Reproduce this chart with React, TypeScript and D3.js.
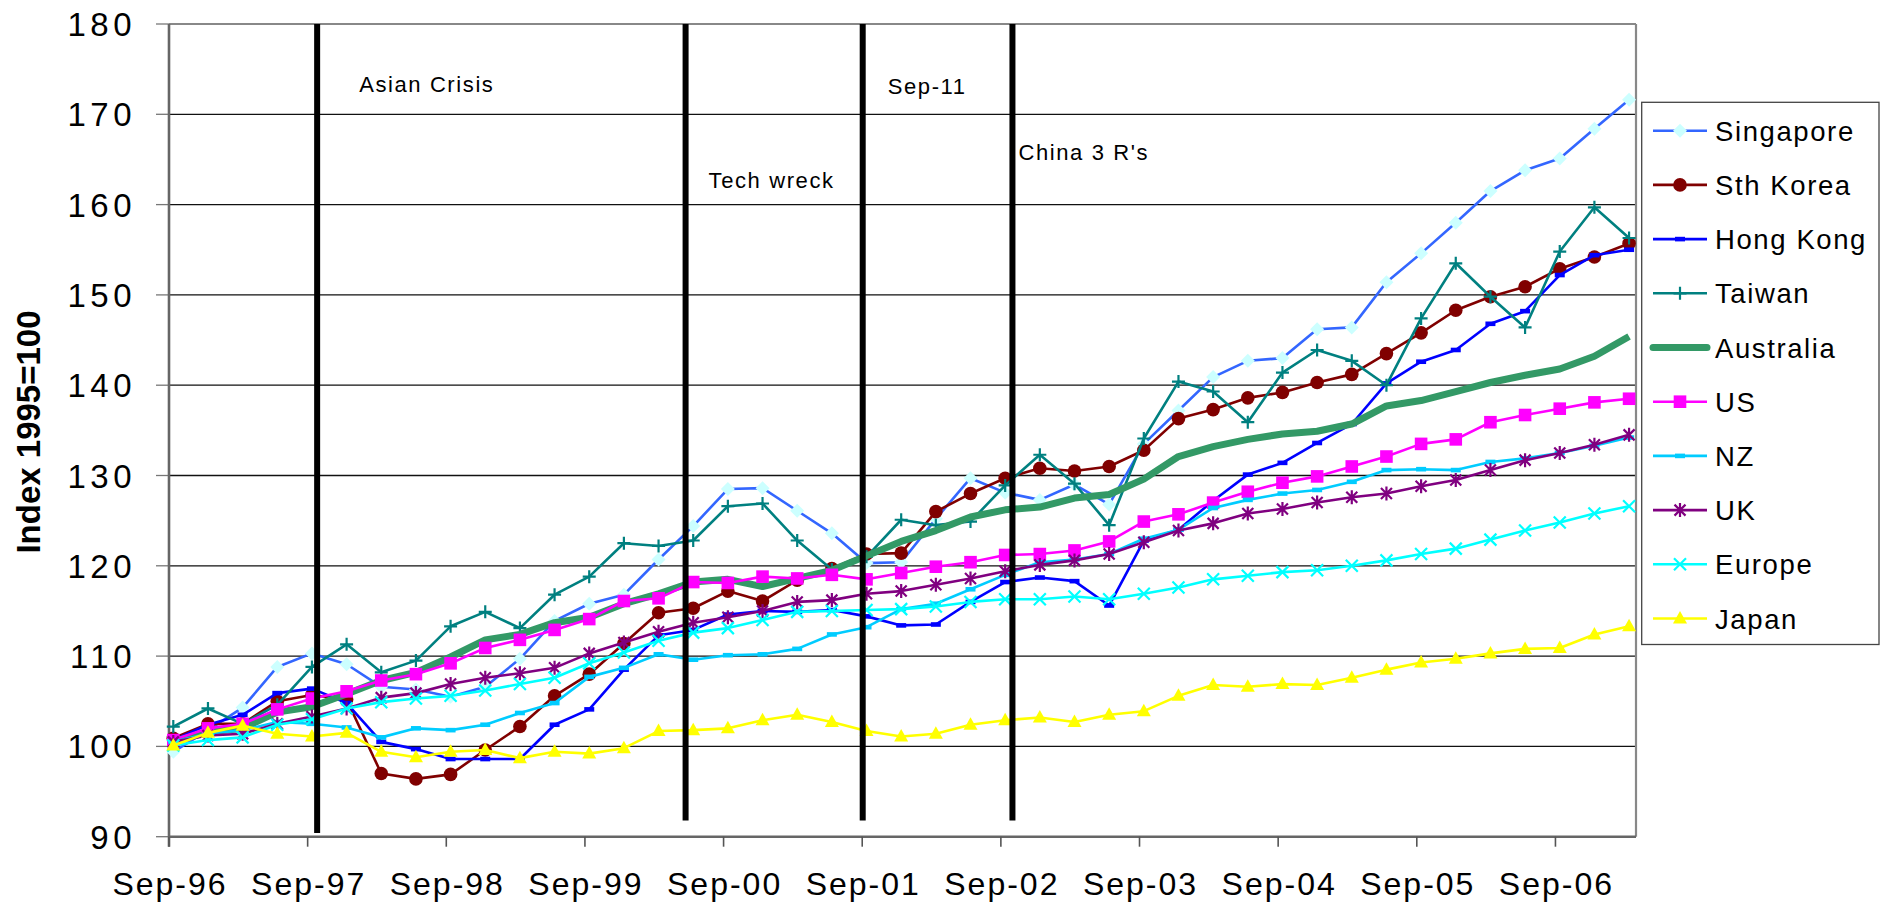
import * as d3 from 'd3';

// Quarterly index values, Sep-96 .. Mar-07 (1995 = 100)
const tickLabels = ['Sep-96', 'Sep-97', 'Sep-98', 'Sep-99', 'Sep-00', 'Sep-01', 'Sep-02', 'Sep-03', 'Sep-04', 'Sep-05', 'Sep-06'];
const yTickValues = [90, 100, 110, 120, 130, 140, 150, 160, 170, 180];

const singapore = [99.4, 101.8, 104.3, 108.8, 110.3, 109.1, 106.6, 106.3, 105.5, 106.6, 109.7, 113.9, 115.8, 116.8, 120.7, 124.4, 128.5, 128.6, 126.1, 123.6, 120.3, 120.4, 125.2, 129.7, 128.1, 127.3, 129.0, 126.8, 133.5, 137.2, 140.9, 142.7, 143.0, 146.2, 146.4, 151.4, 154.6, 158.0, 161.5, 163.8, 165.1, 168.4, 171.6];
const sthKorea = [100.9, 102.5, 102.5, 105.0, 105.7, 105.2, 97.0, 96.4, 96.9, 99.6, 102.2, 105.6, 108.0, 111.4, 114.8, 115.3, 117.2, 116.1, 118.4, 119.7, 121.3, 121.4, 126.0, 128.0, 129.7, 130.8, 130.5, 131.0, 132.8, 136.3, 137.3, 138.6, 139.2, 140.3, 141.2, 143.5, 145.8, 148.3, 149.8, 150.9, 152.9, 154.2, 155.7];
const hongKong = [100.7, 102.4, 103.5, 105.9, 106.4, 104.8, 100.5, 99.7, 98.6, 98.6, 98.6, 102.4, 104.1, 108.5, 112.3, 112.9, 114.6, 115.0, 114.9, 115.1, 114.4, 113.4, 113.5, 116.0, 118.2, 118.7, 118.3, 115.6, 122.8, 124.0, 127.2, 130.1, 131.4, 133.6, 135.7, 140.2, 142.6, 143.9, 146.8, 148.2, 152.2, 154.4, 155.0];
const taiwan = [102.2, 104.2, 102.5, 104.6, 108.8, 111.3, 108.2, 109.5, 113.3, 114.9, 113.1, 116.8, 118.8, 122.5, 122.2, 122.8, 126.6, 126.9, 122.8, 119.6, 121.0, 125.1, 124.5, 124.9, 128.9, 132.3, 129.1, 124.5, 134.1, 140.4, 139.3, 135.9, 141.4, 143.9, 142.7, 140.0, 147.4, 153.5, 149.8, 146.4, 154.8, 159.7, 156.3];
const australia = [100.5, 101.6, 102.0, 103.8, 104.4, 105.8, 107.3, 108.2, 109.9, 111.8, 112.4, 113.7, 114.3, 115.8, 116.9, 118.2, 118.5, 117.7, 118.6, 119.5, 121.1, 122.7, 123.9, 125.4, 126.2, 126.5, 127.5, 127.9, 129.6, 132.1, 133.2, 134.0, 134.6, 134.9, 135.7, 137.7, 138.3, 139.3, 140.3, 141.1, 141.8, 143.2, 145.4];
const us = [100.7, 102.0, 102.5, 104.1, 105.3, 106.1, 107.3, 108.0, 109.2, 110.9, 111.8, 112.9, 114.1, 116.1, 116.4, 118.2, 118.1, 118.8, 118.6, 119.0, 118.5, 119.2, 119.9, 120.4, 121.2, 121.3, 121.7, 122.7, 124.9, 125.7, 127.0, 128.2, 129.2, 129.9, 131.0, 132.1, 133.5, 134.0, 135.9, 136.7, 137.4, 138.1, 138.5];
const nz = [100.5, 101.4, 101.8, 102.7, 102.5, 102.1, 101.0, 102.0, 101.8, 102.4, 103.7, 104.8, 107.7, 108.7, 110.2, 109.6, 110.1, 110.2, 110.8, 112.4, 113.2, 115.2, 115.8, 117.4, 119.0, 120.4, 120.7, 121.3, 123.0, 124.0, 126.4, 127.3, 128.0, 128.4, 129.3, 130.6, 130.7, 130.6, 131.5, 131.9, 132.5, 133.3, 134.2];
const uk = [100.5, 101.2, 101.4, 102.5, 103.3, 104.2, 105.4, 105.9, 106.9, 107.6, 108.1, 108.7, 110.3, 111.5, 112.7, 113.7, 114.3, 115.0, 116.0, 116.2, 116.9, 117.2, 117.9, 118.6, 119.4, 120.1, 120.6, 121.3, 122.6, 123.9, 124.7, 125.8, 126.3, 127.0, 127.6, 128.0, 128.8, 129.5, 130.6, 131.7, 132.5, 133.4, 134.5];
const europe = [100.1, 100.7, 101.0, 102.4, 103.0, 104.2, 104.9, 105.3, 105.6, 106.2, 106.9, 107.6, 109.2, 110.4, 111.7, 112.6, 113.1, 114.0, 114.9, 115.0, 115.1, 115.2, 115.5, 116.0, 116.3, 116.3, 116.6, 116.3, 116.9, 117.6, 118.5, 118.9, 119.3, 119.5, 120.0, 120.6, 121.3, 121.9, 122.9, 123.9, 124.8, 125.8, 126.6];
const japan = [100.1, 101.5, 102.3, 101.4, 101.1, 101.5, 99.4, 98.8, 99.4, 99.6, 98.7, 99.4, 99.2, 99.8, 101.7, 101.8, 102.0, 102.9, 103.5, 102.7, 101.7, 101.1, 101.4, 102.4, 102.9, 103.2, 102.7, 103.5, 103.9, 105.6, 106.8, 106.6, 106.9, 106.8, 107.6, 108.5, 109.3, 109.7, 110.3, 110.8, 110.9, 112.4, 113.3];

const seriesNames = ['Singapore', 'Sth Korea', 'Hong Kong', 'Taiwan', 'Australia', 'US', 'NZ', 'UK', 'Europe', 'Japan'];
const seriesValues = [singapore, sthKorea, hongKong, taiwan, australia, us, nz, uk, europe, japan];

// events, in quarters after the first observation
const eventLabels = ['Asian Crisis', 'Tech wreck', 'Sep-11', "China 3 R's"];
const eventQuarters = [4.15, 14.78, 19.89, 24.21];

type MarkerKind = 'diamond' | 'circle' | 'dash' | 'plus' | 'square' | 'star' | 'x' | 'triangle' | 'none';
interface SeriesStyle { line: string; fill: string; marker: MarkerKind; width: number }

const styles: Record<string, SeriesStyle> = {
  Singapore: { line: '#3366FF', fill: '#CCFFFF', marker: 'diamond', width: 2.6 },
  'Sth Korea': { line: '#800000', fill: '#800000', marker: 'circle', width: 2.6 },
  'Hong Kong': { line: '#0000FF', fill: '#0000FF', marker: 'dash', width: 2.6 },
  Taiwan: { line: '#008080', fill: '#008080', marker: 'plus', width: 2.6 },
  Australia: { line: '#339966', fill: '#339966', marker: 'none', width: 7 },
  US: { line: '#FF00FF', fill: '#FF00FF', marker: 'square', width: 2.6 },
  NZ: { line: '#00CCFF', fill: '#00CCFF', marker: 'dash', width: 2.6 },
  UK: { line: '#800080', fill: '#800080', marker: 'star', width: 2.6 },
  Europe: { line: '#00FFFF', fill: '#00FFFF', marker: 'x', width: 2.6 },
  Japan: { line: '#FFFF00', fill: '#FFFF00', marker: 'triangle', width: 2.6 },
};

const FONT = '"Liberation Sans", Arial, Helvetica, sans-serif';
const plot = { left: 169, top: 24, right: 1636, bottom: 836.7 };

function Marker({ kind, x, y, style }: { kind: MarkerKind; x: number; y: number; style: SeriesStyle }) {
  const t = `translate(${x},${y})`;
  switch (kind) {
    case 'diamond':
      return <path transform={t} d="M0,-7L7,0L0,7L-7,0Z" fill={style.fill} />;
    case 'circle':
      return <circle cx={x} cy={y} r={6.8} fill={style.fill} />;
    case 'dash':
      return <rect x={x - 5} y={y - 2.3} width={10} height={4.6} fill={style.fill} />;
    case 'square':
      return <rect x={x - 6.3} y={y - 6.3} width={12.6} height={12.6} fill={style.fill} />;
    case 'triangle':
      return <path transform={t} d="M0,-7.5L7,5L-7,5Z" fill={style.fill} />;
    case 'plus':
      return <path transform={t} d="M-6.5,0H6.5M0,-6.5V6.5" stroke={style.fill} strokeWidth={2.2} />;
    case 'x':
      return <path transform={t} d="M-6,-6L6,6M-6,6L6,-6" stroke={style.fill} strokeWidth={2.2} />;
    case 'star':
      return <path transform={t} d="M-5.5,-5.5L5.5,5.5M-5.5,5.5L5.5,-5.5M0,-7V7" stroke={style.fill} strokeWidth={2.2} />;
    default:
      return null;
  }
}

export default function App() {
  const lastIndex = singapore.length - 1;
  const x = d3.scaleLinear().domain([-0.124, lastIndex + 0.2]).range([plot.left, plot.right]);
  const y = d3.scaleLinear().domain([90, 180]).range([plot.bottom, plot.top]);
  const line = d3.line<number>().x((_, i) => x(i)).y((v) => y(v));
  const tickQuarter = (k: number) => k * 4 - 0.124;

  const legendY = d3.scaleLinear().domain([0, seriesNames.length - 1]).range([130.7, 618.5]);
  const eventBottoms = [90.4, 91.8, 91.8, 91.8];
  const labelPos = [
    { dx: 42, y: 92 },
    { dx: 23, y: 188 },
    { dx: 25, y: 94 },
    { dx: 6, y: 160 },
  ];

  return (
    <div style={{ position: 'absolute', left: 0, top: 0 }}>
      <svg width={1889} height={905} style={{ display: 'block', background: '#fff' }}>
        {/* gridlines and y ticks */}
        {yTickValues.map((v) => (
          <g key={`y-${v}`}>
            {v !== 180 && v !== 90 && (
              <line x1={plot.left} x2={plot.right} y1={y(v)} y2={y(v)} stroke="#111" strokeWidth={1.3} />
            )}
            <line x1={156} x2={plot.left} y1={y(v)} y2={y(v)} stroke="#777" strokeWidth={1.3} />
            <text x={136} y={y(v) + 12} textAnchor="end" fontFamily={FONT} fontSize={33} letterSpacing={4.5} fill="#000">
              {v}
            </text>
          </g>
        ))}
        {/* plot frame */}
        <line x1={plot.left} x2={plot.right} y1={plot.top} y2={plot.top} stroke="#888" strokeWidth={2.2} />
        <line x1={plot.right} x2={plot.right} y1={plot.top} y2={plot.bottom} stroke="#888" strokeWidth={2.2} />
        <line x1={plot.left} x2={plot.left} y1={plot.top} y2={plot.bottom + 10} stroke="#666" strokeWidth={2.6} />
        <line x1={plot.left} x2={plot.right} y1={plot.bottom} y2={plot.bottom} stroke="#666" strokeWidth={2.6} />
        {/* x ticks */}
        {tickLabels.map((label, k) => (
          <g key={label}>
            <line x1={x(tickQuarter(k))} x2={x(tickQuarter(k))} y1={plot.bottom} y2={plot.bottom + 10} stroke="#555" strokeWidth={1.6} />
            <text x={x(tickQuarter(k)) + 1} y={895} textAnchor="middle" fontFamily={FONT} fontSize={32} letterSpacing={2} fill="#000">
              {label}
            </text>
          </g>
        ))}
        {/* y axis title */}
        <text
          transform="translate(40,432) rotate(-90)"
          textAnchor="middle"
          fontFamily={FONT}
          fontSize={33}
          fontWeight="bold"
          fill="#000"
        >
          Index 1995=100
        </text>

        {/* series */}
        {seriesNames.map((name, s) => {
          const st = styles[name];
          const values = seriesValues[s];
          return (
            <g key={name}>
              <path d={line(values) ?? undefined} fill="none" stroke={st.line} strokeWidth={st.width} strokeLinejoin="round" />
              {values.map((v, i) => (
                <Marker key={i} kind={st.marker} x={x(i)} y={y(v)} style={st} />
              ))}
            </g>
          );
        })}

        {/* event lines */}
        {eventLabels.map((label, e) => {
          const ex = x(eventQuarters[e]);
          return (
            <g key={label}>
              <line x1={ex} x2={ex} y1={y(180)} y2={y(eventBottoms[e])} stroke="#000" strokeWidth={6} />
              <text x={ex + labelPos[e].dx} y={labelPos[e].y} fontFamily={FONT} fontSize={22} letterSpacing={1.6} fill="#000">
                {label}
              </text>
            </g>
          );
        })}

        {/* legend */}
        <rect x={1641.7} y={102.3} width={237.3} height={542.2} fill="#fff" stroke="#444" strokeWidth={1.3} />
        {seriesNames.map((name, s) => {
          const st = styles[name];
          const ly = legendY(s);
          return (
            <g key={`lg-${name}`}>
              <line x1={1653} x2={1707} y1={ly} y2={ly} stroke={st.line} strokeWidth={st.width} strokeLinecap={name === 'Australia' ? 'round' : 'butt'} />
              <Marker kind={st.marker} x={1680} y={ly} style={st} />
              <text x={1715} y={ly + 10} fontFamily={FONT} fontSize={27.5} letterSpacing={1.6} fill="#000">
                {name}
              </text>
            </g>
          );
        })}
      </svg>
    </div>
  );
}
